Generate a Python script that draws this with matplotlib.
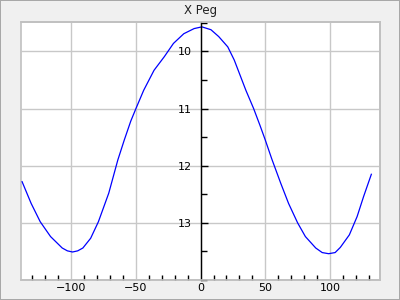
import matplotlib.pyplot as plt
from matplotlib.ticker import MultipleLocator

# light curve of X Peg
phase = [-138, -131, -124, -116, -107, -103, -99, -95, -91, -85, -79, -71, -64, -59,
         -54, -50, -44, -36, -28, -21, -13, -5, 1, 8, 14, 21, 26, 35, 41, 46, 50, 55,
         62, 68, 75, 81, 89, 94, 99, 104, 108, 115, 121, 126, 132]
mag = [12.28, 12.66, 12.98, 13.24, 13.44, 13.49, 13.51, 13.49, 13.44, 13.27, 12.98,
       12.48, 11.90, 11.55, 11.22, 11.00, 10.68, 10.33, 10.09, 9.86, 9.69, 9.60,
       9.57, 9.62, 9.74, 9.92, 10.15, 10.68, 11.00, 11.30, 11.55, 11.88, 12.31,
       12.66, 13.00, 13.24, 13.44, 13.52, 13.54, 13.52, 13.43, 13.21, 12.89, 12.54,
       12.15]
x_ticks = [-100, -50, 0, 50, 100]
y_ticks = [10, 11, 12, 13]

plt.rcParams['font.family'] = 'DejaVu Sans'
plt.rcParams['font.size'] = 8

fig = plt.figure(figsize=(4, 3), dpi=100, facecolor='#f0f0f0',
                 edgecolor='#a8a8a8', linewidth=1.2)
ax = fig.add_axes([0.052, 0.0667, 0.899, 0.859])
ax.set_facecolor('white')

ax.plot(phase, mag, color='#0000ff', linewidth=0.9)

ax.set_xlim(-139, 139)
ax.set_ylim(14.0, 9.49)
ax.set_xticks(x_ticks)
ax.set_yticks(y_ticks)
ax.xaxis.set_minor_locator(MultipleLocator(10))
ax.yaxis.set_minor_locator(MultipleLocator(0.5))

ax.grid(True, which='major', color='#c8c8c8', linewidth=1)
ax.set_axisbelow(True)

# y axis sits on x = 0
ax.spines['left'].set_position(('data', 0))
ax.spines['left'].set_color('black')
ax.spines['left'].set_linewidth(1.0)
for side in ['top', 'right', 'bottom']:
    ax.spines[side].set_color('#c0c0c0')
    ax.spines[side].set_linewidth(1.2)
ax.patch.set_edgecolor('#c0c0c0')
ax.patch.set_linewidth(1.2)

ax.tick_params(axis='y', which='major', direction='in', length=5, width=1,
               pad=6, colors='black')
ax.tick_params(axis='y', which='minor', direction='in', length=4, width=1)
ax.tick_params(axis='x', which='major', length=0, pad=2.5)
ax.tick_params(axis='x', which='minor', direction='in', length=3.5, width=1,
               color='black')

ax.set_title('X Peg', fontsize=8.5, color='#222222', pad=6)

fig.savefig('out.png', dpi=100)
